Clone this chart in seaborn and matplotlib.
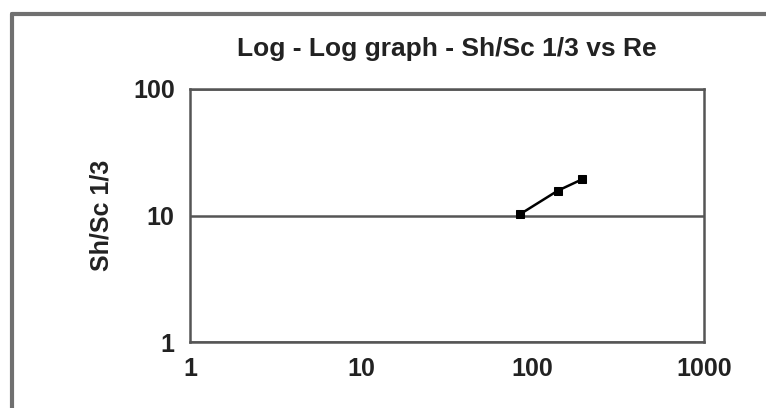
import matplotlib
matplotlib.use("Agg")
import matplotlib.pyplot as plt
from matplotlib.lines import Line2D
from matplotlib.ticker import FixedLocator, NullLocator, FuncFormatter
import seaborn as sns

# values
re_values = [84, 140, 194]
sh_sc_values = [10.2, 15.7, 19.3]
x_ticks = [1, 10, 100, 1000]
y_ticks = [1, 10, 100]

sns.set_style("white")
plt.rcParams['font.family'] = ['Liberation Sans', 'DejaVu Sans']
plt.rcParams['font.weight'] = 'bold'

fig = plt.figure(figsize=(7.66, 4.08), dpi=100)
ax = fig.add_axes([190 / 766, 1 - 342 / 408, (704 - 190) / 766, (342 - 89) / 408])

sns.lineplot(x=re_values, y=sh_sc_values, color='black', linewidth=1.8,
             marker='s', markersize=6, markeredgecolor='black', ax=ax)

ax.set_xscale('log')
ax.set_yscale('log')
ax.set_xlim(1, 1000)
ax.set_ylim(1, 100)

ax.xaxis.set_major_locator(FixedLocator(x_ticks))
ax.yaxis.set_major_locator(FixedLocator(y_ticks))
ax.xaxis.set_minor_locator(NullLocator())
ax.yaxis.set_minor_locator(NullLocator())
fmt = FuncFormatter(lambda v, p: f"{v:g}")
ax.xaxis.set_major_formatter(fmt)
ax.yaxis.set_major_formatter(fmt)

axis_col = '#555555'
text_col = '#222222'
for s in ax.spines.values():
    s.set_color(axis_col)
    s.set_linewidth(1.8)
ax.yaxis.grid(True, color=axis_col, linewidth=1.8)
ax.xaxis.grid(False)
ax.tick_params(axis='both', direction='out', length=6, width=1.8, color=axis_col,
               labelsize=18, labelcolor=text_col, pad=5)

ax.set_ylabel('Sh/Sc 1/3', fontsize=18, fontweight='bold', color=text_col, labelpad=14)
ax.set_title('Log - Log graph - Sh/Sc 1/3 vs Re', fontsize=19, fontweight='bold',
             color=text_col, pad=24)

# grey chart border (top and left visible)
border_col = '#707070'
fig.add_artist(Line2D([12 / 766, 12 / 766], [0, 1 - 14 / 408], color=border_col,
                      linewidth=3, transform=fig.transFigure))
fig.add_artist(Line2D([12 / 766, 1], [1 - 14 / 408, 1 - 14 / 408], color=border_col,
                      linewidth=3, transform=fig.transFigure))

fig.savefig('out.png', dpi=100)
